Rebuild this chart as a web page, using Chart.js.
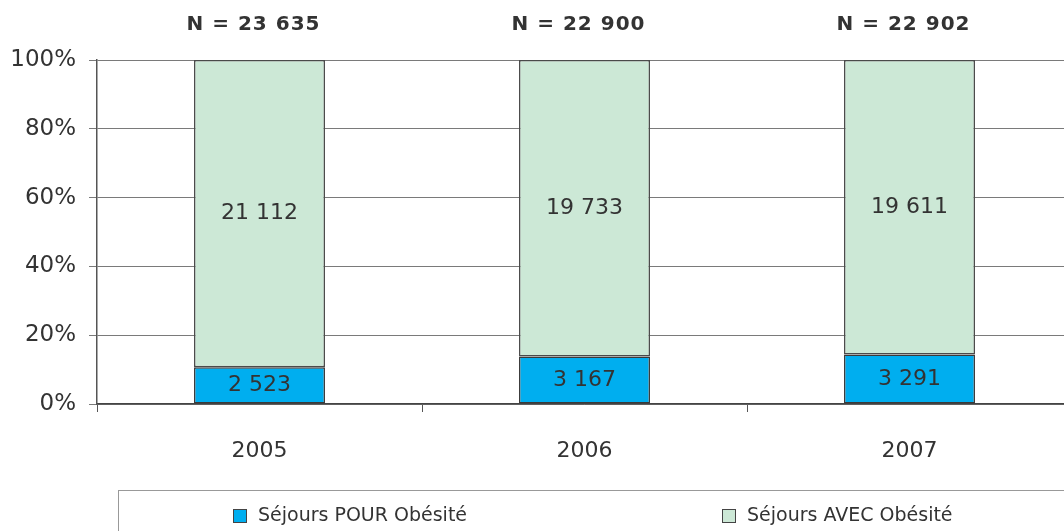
<!DOCTYPE html>
<html>
<head>
<meta charset="utf-8">
<script src="https://cdn.jsdelivr.net/npm/chart.js@4/dist/chart.umd.min.js"></script>
<style>
  html, body { margin: 0; padding: 0; background: #fff; overflow: hidden; }
  #wrap { width: 1072px; height: 531px; }
</style>
</head>
<body>
<div id="wrap"><canvas id="canvas" width="1072" height="531"></canvas></div>
<script>
var canvas = document.getElementById('canvas');
var ctx = canvas.getContext('2d');

// Données : nombre de séjours par année
var annees = ['2005', '2006', '2007'];
var sejoursPour = [2523, 3167, 3291];
var sejoursAvec = [21112, 19733, 19611];
var graduations = [0, 20, 40, 60, 80, 100];

var police = "'DejaVu Sans', sans-serif";
var texte = '#333333';

// Totaux par année
var totaux = [];
for (var i = 0; i < annees.length; i++) {
  totaux.push(sejoursPour[i] + sejoursAvec[i]);
}

// Parts en pourcentage (graphique 100 %)
function enPourcent(serie) {
  var res = [];
  for (var i = 0; i < serie.length; i++) {
    res.push(serie[i] / totaux[i] * 100);
  }
  return res;
}

function formatNombre(n) {
  return n.toString().replace(/\B(?=(\d{3})+(?!\d))/g, ' ');
}

var comptes = [sejoursPour, sejoursAvec];

// Étiquettes dans les barres + N au-dessus + légende encadrée
var etiquettesPlugin = {
  id: 'etiquettes',
  afterDatasetsDraw: function (chart) {
    var c = chart.ctx;
    c.save();
    c.fillStyle = texte;
    c.textAlign = 'center';
    c.textBaseline = 'middle';
    c.font = '22px ' + police;
    chart.data.datasets.forEach(function (ds, di) {
      var meta = chart.getDatasetMeta(di);
      meta.data.forEach(function (bar, i) {
        var y = (bar.y + bar.base) / 2;
        c.fillText(formatNombre(comptes[di][i]), bar.x, y);
      });
    });
    c.font = 'bold 20px ' + police;
    c.letterSpacing = '1px';
    var meta0 = chart.getDatasetMeta(0);
    meta0.data.forEach(function (bar, i) {
      c.fillText('N = ' + formatNombre(totaux[i]), bar.x - 6, 25);
    });
    c.restore();
  },
  afterDraw: function (chart) {
    var c = chart.ctx;
    c.save();
    c.strokeStyle = '#999999';
    c.lineWidth = 1;
    c.strokeRect(118.5, 490.5, 1000, 100);
    var posX = [233, 722];
    c.font = '19px ' + police;
    c.textBaseline = 'middle';
    c.textAlign = 'left';
    chart.data.datasets.forEach(function (ds, di) {
      c.fillStyle = ds.backgroundColor;
      c.fillRect(posX[di] + 0.5, 509.5, 13, 13);
      c.strokeStyle = '#444444';
      c.strokeRect(posX[di] + 0.5, 509.5, 13, 13);
      c.fillStyle = texte;
      c.fillText(ds.label, posX[di] + 25, 516);
    });
    c.restore();
  }
};

var chart1 = new Chart(ctx, {
  type: 'bar',
  data: {
    labels: annees,
    datasets: [{
      label: 'Séjours POUR Obésité',
      data: enPourcent(sejoursPour),
      backgroundColor: 'rgb(0, 174, 239)',
      borderColor: '#3a3a3a',
      borderWidth: 1.5,
      borderSkipped: false
    }, {
      label: 'Séjours AVEC Obésité',
      data: enPourcent(sejoursAvec),
      backgroundColor: 'rgb(204, 232, 214)',
      borderColor: '#4a4a4a',
      borderWidth: 1.5,
      borderSkipped: false
    }]
  },
  options: {
    responsive: false,
    animation: false,
    layout: { padding: { top: 60, left: 0, right: 0, bottom: 0 } },
    datasets: { bar: { categoryPercentage: 1, barPercentage: 0.403 } },
    scales: {
      x: {
        stacked: true,
        offset: true,
        afterFit: function (s) { s.height = 127; },
        grid: {
          offset: true,
          drawOnChartArea: false,
          drawTicks: true,
          tickLength: 8,
          color: '#555555'
        },
        border: { color: '#444444', width: 1.5 },
        ticks: {
          color: texte,
          font: { family: police, size: 22 },
          padding: 26
        }
      },
      y: {
        stacked: true,
        min: 0,
        max: 100,
        afterFit: function (s) { s.width = 97; },
        afterBuildTicks: function (s) {
          s.ticks = graduations.map(function (v) { return { value: v }; });
        },
        grid: {
          color: '#7a7a7a',
          tickLength: 8,
          lineWidth: 1
        },
        border: { color: '#555555', width: 1.5 },
        ticks: {
          color: texte,
          font: { family: police, size: 23 },
          padding: 13,
          callback: function (v) { return v + '%'; }
        }
      }
    },
    plugins: {
      legend: { display: false },
      tooltip: { enabled: false },
      title: { display: false }
    }
  },
  plugins: [etiquettesPlugin]
});
</script>
</body>
</html>
